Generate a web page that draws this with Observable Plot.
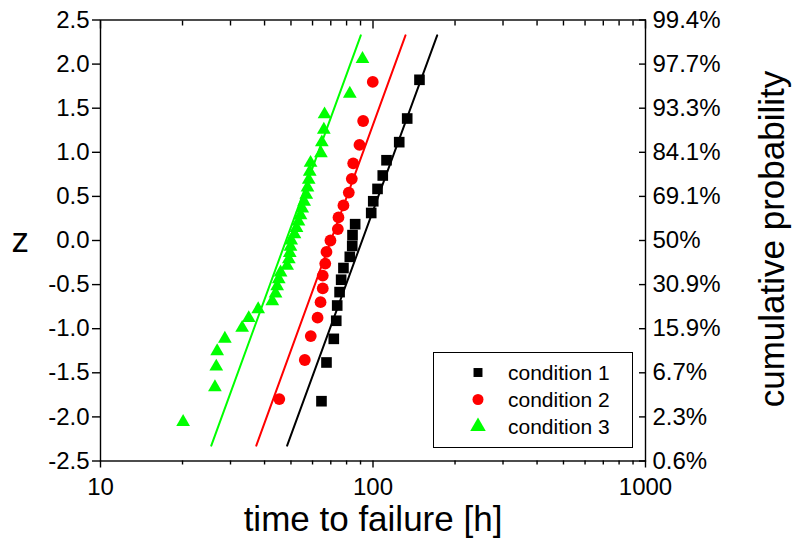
<!DOCTYPE html>
<html>
<head>
<meta charset="utf-8">
<script src="https://cdn.jsdelivr.net/npm/d3@7"></script>
<script src="https://cdn.jsdelivr.net/npm/@observablehq/plot@0.6"></script>
<style>
  html, body { margin: 0; padding: 0; background: #fff; }
  #chart { position: relative; width: 793px; height: 543px; font-family: "Liberation Sans", Arial, sans-serif; }
  #legend { position: absolute; border: 1px solid #000; background: #fff; box-sizing: border-box; }
  #legend .row { display: flex; align-items: center; height: 27px; font-size: 21px; color: #000; }
  #legend svg { display: block; }
</style>
</head>
<body>
<div id="chart"></div>
<script>
// ---- data ----
const seriesNames = ["condition 1", "condition 2", "condition 3"];
const seriesColors = ["#000000", "#ff0000", "#00ff00"];
const seriesSymbols = ["square", "circle", "triangle"];

const cond1Time = [64.7, 67.5, 71.8, 73.3, 73.9, 75.4, 76.4, 77.9, 82.2, 83.9, 84.1, 86.0, 98.5, 100.2, 103.9, 108.6, 112.1, 124.8, 133.5, 148.1];
const cond1Z = [-1.822, -1.383, -1.115, -0.910, -0.737, -0.585, -0.445, -0.312, -0.185, -0.061, 0.061, 0.185, 0.312, 0.445, 0.585, 0.737, 0.910, 1.115, 1.383, 1.822];

const cond2Time = [45.3, 56.2, 59.1, 62.6, 64.2, 65.4, 65.4, 66.8, 67.5, 69.8, 74.3, 74.7, 77.9, 81.5, 83.6, 84.6, 89.2, 92.0, 99.8];
const cond2Z = [-1.798, -1.355, -1.084, -0.875, -0.699, -0.543, -0.398, -0.262, -0.129, 0, 0.129, 0.262, 0.398, 0.543, 0.699, 0.875, 1.084, 1.355, 1.798];

const cond3Time = [20.1, 26.3, 26.6, 26.8, 28.6, 33.1, 35.0, 37.9, 42.7, 43.9, 44.5, 45.1, 45.8, 48.4, 49.1, 49.5, 49.8, 50.1, 51.5, 52.4, 53.3, 54.2, 55.0, 55.9, 56.9, 57.5, 58.1, 58.6, 59.0, 64.4, 64.9, 66.0, 66.4, 82.2, 91.5];
const cond3Z = [-2.058, -1.664, -1.430, -1.256, -1.113, -0.990, -0.880, -0.780, -0.688, -0.601, -0.518, -0.439, -0.362, -0.287, -0.214, -0.142, -0.071, 0, 0.071, 0.142, 0.214, 0.287, 0.362, 0.439, 0.518, 0.601, 0.688, 0.780, 0.880, 0.990, 1.113, 1.256, 1.430, 1.664, 2.058];

// fitted lines (end points)
const fitZ = [-2.326, 2.326];
const fit1Time = [48.4, 172.0];
const fit2Time = [37.3, 131.6];
const fit3Time = [25.5, 90.2];

// axes
const zTicks = [-2.5, -2.0, -1.5, -1.0, -0.5, 0.0, 0.5, 1.0, 1.5, 2.0, 2.5];
const probLabels = ["0.6%", "2.3%", "6.7%", "15.9%", "30.9%", "50%", "69.1%", "84.1%", "93.3%", "97.7%", "99.4%"];
const xMajorTicks = [10, 100, 1000];
const xMinorTicks = [20, 30, 40, 50, 60, 70, 80, 90, 200, 300, 400, 500, 600, 700, 800, 900];
const xTitle = "time to failure [h]";
const yTitle = "z";
const y2Title = "cumulative probability";

// ---- build tables ----
const times = [cond1Time, cond2Time, cond3Time];
const zs = [cond1Z, cond2Z, cond3Z];
const fits = [fit1Time, fit2Time, fit3Time];
const points = [];
const fitLines = [];
seriesNames.forEach((name, s) => {
  times[s].forEach((t, i) => points.push({series: name, t, z: zs[s][i]}));
  fits[s].forEach((t, i) => fitLines.push({series: name, t, z: fitZ[i]}));
});
const probMap = new Map(zTicks.map((z, i) => [z.toFixed(1), probLabels[i]]));

const font = "Liberation Sans, Arial, sans-serif";
const axisStroke = 1.4;
const tickFont = 24;

const marks = [
  Plot.line(fitLines, {x: "t", y: "z", z: "series", stroke: "series", strokeWidth: 2}),
];
seriesNames.forEach((name, s) => {
  const r = s === 0 ? 6 : s === 1 ? 5.9 : 5.1;
  marks.push(Plot.dot(points.filter(d => d.series === name), {
    x: "t", y: "z", symbol: () => seriesSymbols[s], r, fill: seriesColors[s], stroke: "none"
  }));
});

marks.push(
  Plot.frame({stroke: "#000", strokeWidth: axisStroke}),
  // left axis
  Plot.axisY({anchor: "left", ticks: zTicks, tickSize: 8, tickPadding: 3, strokeWidth: axisStroke,
    tickFormat: d => d.toFixed(1), fontSize: tickFont, label: null}),
  // right axis: inward ticks + probability labels
  Plot.axisY({anchor: "right", ticks: zTicks, tickSize: 7, dx: -7, strokeWidth: axisStroke, fill: "none", label: null}),
  Plot.axisY({anchor: "right", ticks: zTicks, tickSize: 0, tickPadding: 7,
    tickFormat: d => probMap.get(d.toFixed(1)), fontSize: tickFont, textAnchor: "start", label: null}),
  // bottom axis
  Plot.axisX({anchor: "bottom", ticks: xMajorTicks, tickSize: 7, tickPadding: 10, strokeWidth: axisStroke,
    tickFormat: d => String(d), fontSize: tickFont, label: null}),
  Plot.axisX({anchor: "bottom", ticks: xMinorTicks, tickSize: 4, strokeWidth: axisStroke, fill: "none", label: null}),
  // top axis: inward ticks
  Plot.axisX({anchor: "top", ticks: xMajorTicks, tickSize: 8, dy: 8, strokeWidth: axisStroke, fill: "none", label: null}),
  Plot.axisX({anchor: "top", ticks: xMinorTicks, tickSize: 5, dy: 5, strokeWidth: axisStroke, fill: "none", label: null}),
  // titles
  Plot.text([yTitle], {frameAnchor: "left", dx: -89, fontSize: 35, fill: "#000"}),
  Plot.text([xTitle], {frameAnchor: "bottom", dy: 70, fontSize: 35, fill: "#000"})
);

const chart = Plot.plot({
  width: 793,
  height: 543,
  marginTop: 19.5,
  marginBottom: 82.5,
  marginLeft: 100,
  marginRight: 148,
  style: {fontFamily: font, fontSize: "24px", color: "#000", background: "#fff", overflow: "visible"},
  x: {type: "log", domain: [10, 1000], axis: null},
  y: {domain: [-2.5, 2.5], axis: null},
  color: {domain: seriesNames, range: seriesColors},
  marks
});

// right-hand rotated title (real SVG text)
d3.select(chart).append("text")
  .attr("transform", "translate(784,239) rotate(-90)")
  .attr("text-anchor", "middle")
  .attr("font-family", font)
  .attr("font-size", 35)
  .attr("fill", "#000")
  .text(y2Title);

document.getElementById("chart").appendChild(chart);

// legend (HTML overlay, built from the series arrays)
const legend = document.createElement("div");
legend.id = "legend";
Object.assign(legend.style, {left: "433px", top: "352px", width: "200px", height: "96px", padding: "6px 0 0 0"});
seriesNames.forEach((name, s) => {
  const row = document.createElement("div");
  row.className = "row";
  const sym = d3.create("svg").attr("width", 88).attr("height", 27);
  const size = s === 0 ? 80 : s === 1 ? 95 : 105;
  sym.append("path")
    .attr("transform", "translate(44,13.5)")
    .attr("d", d3.symbol(s === 0 ? d3.symbolSquare : s === 1 ? d3.symbolCircle : d3.symbolTriangle, size)())
    .attr("fill", seriesColors[s]);
  row.appendChild(sym.node());
  const label = document.createElement("span");
  label.textContent = name;
  label.style.marginLeft = "-14px";
  row.appendChild(label);
  legend.appendChild(row);
});
document.getElementById("chart").appendChild(legend);
</script>
</body>
</html>
